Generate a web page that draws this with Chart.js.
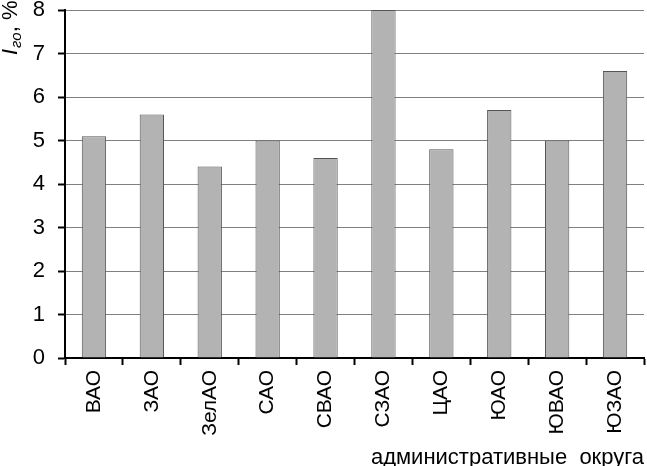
<!DOCTYPE html>
<html lang="ru">
<head>
  <meta charset="utf-8">
  <script src="https://cdn.jsdelivr.net/npm/chart.js@4.4.1/dist/chart.umd.min.js"></script>
  <style>
    html, body { margin: 0; padding: 0; background: #fff; }
  </style>
</head>
<body>
<canvas id="myChart" width="647" height="466"></canvas>

<script>
    // округа Москвы
    var okruga = ['ВАО', 'ЗАО', 'ЗелАО', 'САО', 'СВАО', 'СЗАО', 'ЦАО', 'ЮАО', 'ЮВАО', 'ЮЗАО'];
    // значения I_го, %
    var igo = [5.1, 5.6, 4.4, 5.0, 4.6, 8.0, 4.8, 5.7, 5.0, 6.6];
    var yTicks = [0, 1, 2, 3, 4, 5, 6, 7, 8];

    var FONT = '"Liberation Sans", Arial, sans-serif';

    // подпись оси Y с подстрочным индексом
    var yTitle = {
        id: 'yTitle',
        afterDraw: function(chart) {
            var c = chart.ctx;
            c.save();
            c.translate(17, 55);
            c.rotate(-Math.PI / 2);
            c.fillStyle = '#000';
            c.textBaseline = 'alphabetic';
            var x = 0;
            c.font = 'italic 22px ' + FONT;
            c.fillText('I', x, 0);
            x += c.measureText('I').width + 1;
            c.font = 'italic 15px ' + FONT;
            c.fillText('го', x, 4);
            x += c.measureText('го').width;
            c.font = '22px ' + FONT;
            c.fillText(', %', x, 0);
            c.restore();
        }
    };

    var ctx = document.getElementById('myChart').getContext('2d');
    var myChart = new Chart(ctx, {
        type: 'bar',
        data: {
            labels: okruga,
            datasets: [{
                data: igo,
                backgroundColor: '#b3b3b3',
                borderColor: '#555555',
                borderWidth: 1,
                borderSkipped: 'bottom',
                barPercentage: 0.42,
                categoryPercentage: 1.0
            }]
        },
        options: {
            responsive: false,
            animation: false,
            layout: { padding: { left: 0, right: 3, top: 10, bottom: 0 } },
            plugins: {
                legend: { display: false },
                tooltip: { enabled: false }
            },
            scales: {
                x: {
                    grid: {
                        offset: true,
                        drawOnChartArea: false,
                        drawTicks: true,
                        tickLength: 7,
                        tickColor: '#000',
                        tickWidth: 2
                    },
                    border: { color: '#000', width: 2 },
                    ticks: {
                        color: '#000',
                        font: { family: FONT, size: 21, lineHeight: 1 },
                        minRotation: 90,
                        maxRotation: 90,
                        padding: 5
                    },
                    title: {
                        display: true,
                        text: 'административные  округа',
                        align: 'end',
                        color: '#000',
                        font: { family: FONT, size: 22 },
                        padding: { top: 0, bottom: -5 }
                    },
                    afterFit: function(s) {
                        s.height = 108;
                        s.paddingLeft = 0;
                        s.paddingRight = 0;
                    }
                },
                y: {
                    min: 0,
                    max: 8,
                    afterBuildTicks: function(s) {
                        s.ticks = yTicks.map(function(v) { return { value: v }; });
                    },
                    grid: {
                        color: '#808080',
                        lineWidth: 1,
                        tickLength: 7,
                        tickColor: '#000',
                        tickWidth: 2
                    },
                    border: { color: '#000', width: 2 },
                    ticks: {
                        color: '#000',
                        font: { family: FONT, size: 22, lineHeight: 1 },
                        padding: 13
                    },
                    afterFit: function(s) {
                        s.width = 65;
                        s.paddingTop = 0;
                        s.paddingBottom = 0;
                    }
                }
            }
        },
        plugins: [yTitle]
    });
</script>
</body>
</html>
